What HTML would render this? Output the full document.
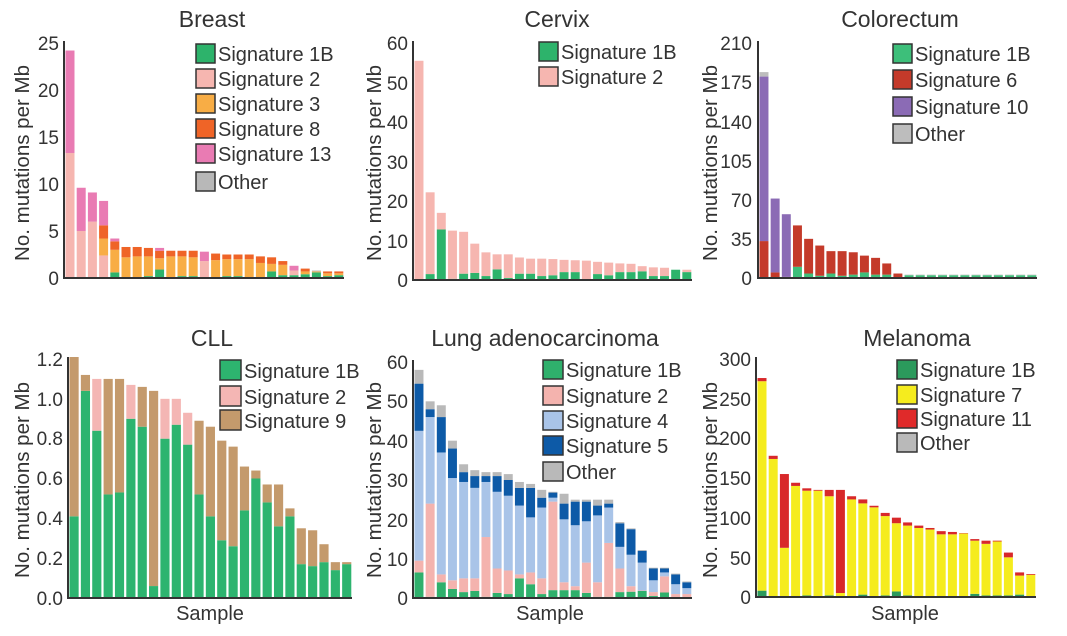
<!DOCTYPE html>
<html><head><meta charset="utf-8"><style>
html,body{margin:0;padding:0;background:#fff;}
svg{display:block;font-family:"Liberation Sans",sans-serif;}
.t{font-size:23px;fill:#333;text-anchor:middle}
.k{font-size:19px;fill:#333;text-anchor:end}
.l{font-size:20px;fill:#333}
.y{font-size:20.5px;fill:#333;text-anchor:middle}
</style></head><body>
<svg id="s" width="1067" height="636" viewBox="0 0 1067 636" xmlns="http://www.w3.org/2000/svg">
<g id="bars"></g>
<text class="t" x="212" y="27">Breast</text>
<text class="t" x="557" y="27">Cervix</text>
<text class="t" x="900" y="27">Colorectum</text>
<text class="t" x="212" y="346">CLL</text>
<text class="t" x="545" y="346">Lung adenocarcinoma</text>
<text class="t" x="917" y="346">Melanoma</text>
<text class="y" transform="translate(29,163) rotate(-90)">No. mutations per Mb</text>
<text class="y" transform="translate(381,163) rotate(-90)">No. mutations per Mb</text>
<text class="y" transform="translate(717,163) rotate(-90)">No. mutations per Mb</text>
<text class="y" transform="translate(29,480) rotate(-90)">No. mutations per Mb</text>
<text class="y" transform="translate(381,480) rotate(-90)">No. mutations per Mb</text>
<text class="y" transform="translate(717,480) rotate(-90)">No. mutations per Mb</text>
<text class="t" style="font-size:20px" x="210" y="620">Sample</text>
<text class="t" style="font-size:20px" x="550" y="620">Sample</text>
<text class="t" style="font-size:20px" x="905" y="620">Sample</text>
<text class="k" x="59" y="285">0</text><text class="k" x="59" y="238">5</text><text class="k" x="59" y="191">10</text><text class="k" x="59" y="144">15</text><text class="k" x="59" y="97">20</text><text class="k" x="59" y="50">25</text>
<text class="k" x="408" y="287">0</text><text class="k" x="408" y="248">10</text><text class="k" x="408" y="208">20</text><text class="k" x="408" y="169">30</text><text class="k" x="408" y="129">40</text><text class="k" x="408" y="90">50</text><text class="k" x="408" y="50">60</text>
<text class="k" x="752" y="285">0</text><text class="k" x="752" y="246">35</text><text class="k" x="752" y="207">70</text><text class="k" x="752" y="168">105</text><text class="k" x="752" y="129">140</text><text class="k" x="752" y="89">175</text><text class="k" x="752" y="50">210</text>
<text class="k" x="63" y="605">0.0</text><text class="k" x="63" y="565">0.2</text><text class="k" x="63" y="525">0.4</text><text class="k" x="63" y="485">0.6</text><text class="k" x="63" y="445">0.8</text><text class="k" x="63" y="406">1.0</text><text class="k" x="63" y="366">1.2</text>
<text class="k" x="408" y="605">0</text><text class="k" x="408" y="566">10</text><text class="k" x="408" y="527">20</text><text class="k" x="408" y="487">30</text><text class="k" x="408" y="448">40</text><text class="k" x="408" y="408">50</text><text class="k" x="408" y="369">60</text>
<text class="k" x="751" y="604">0</text><text class="k" x="751" y="565">50</text><text class="k" x="751" y="525">100</text><text class="k" x="751" y="485">150</text><text class="k" x="751" y="445">200</text><text class="k" x="751" y="406">250</text><text class="k" x="751" y="366">300</text>
<g stroke="#333" stroke-width="1.5">
<rect x="196" y="44" width="19" height="19" fill="#2db36b"/><rect x="196" y="69" width="19" height="19" fill="#f6b6b0"/><rect x="196" y="94" width="19" height="19" fill="#f8ad45"/><rect x="196" y="119" width="19" height="19" fill="#ef6427"/><rect x="196" y="144" width="19" height="19" fill="#e97bb3"/><rect x="196" y="172" width="19" height="19" fill="#b8b8b8"/>
<rect x="539" y="42" width="19" height="19" fill="#2db36b"/><rect x="539" y="67" width="19" height="19" fill="#f6b6b0"/>
<rect x="893" y="44" width="19" height="19" fill="#3dbf7a"/><rect x="893" y="70" width="19" height="19" fill="#c43a2a"/><rect x="893" y="97" width="19" height="19" fill="#8b6bb5"/><rect x="893" y="124" width="19" height="19" fill="#bdbdbd"/>
<rect x="220" y="360" width="21" height="20" fill="#2db46f"/><rect x="220" y="386" width="21" height="20" fill="#f4b6b4"/><rect x="220" y="410" width="21" height="20" fill="#c49a6c"/>
<rect x="543" y="360" width="20" height="19" fill="#2fb06c"/><rect x="543" y="386" width="20" height="19" fill="#f4b3ae"/><rect x="543" y="411" width="20" height="19" fill="#a9c4e8"/><rect x="543" y="436" width="20" height="19" fill="#0d5aa7"/><rect x="543" y="462" width="20" height="19" fill="#b9b9b9"/>
<rect x="897" y="360" width="20" height="19" fill="#2b9a5c"/><rect x="897" y="385" width="20" height="19" fill="#f5ec1e"/><rect x="897" y="409" width="20" height="19" fill="#e02a2a"/><rect x="897" y="433" width="20" height="19" fill="#b9b9b9"/>
</g>
<text class="l" x="218" y="61">Signature 1B</text><text class="l" x="218" y="86">Signature 2</text><text class="l" x="218" y="111">Signature 3</text><text class="l" x="218" y="136">Signature 8</text><text class="l" x="218" y="161">Signature 13</text><text class="l" x="218" y="189">Other</text>
<text class="l" x="561" y="59">Signature 1B</text><text class="l" x="561" y="84">Signature 2</text>
<text class="l" x="915" y="61">Signature 1B</text><text class="l" x="915" y="87">Signature 6</text><text class="l" x="915" y="114">Signature 10</text><text class="l" x="915" y="141">Other</text>
<text class="l" x="244" y="378">Signature 1B</text><text class="l" x="244" y="404">Signature 2</text><text class="l" x="244" y="428">Signature 9</text>
<text class="l" x="566" y="377">Signature 1B</text><text class="l" x="566" y="403">Signature 2</text><text class="l" x="566" y="428">Signature 4</text><text class="l" x="566" y="453">Signature 5</text><text class="l" x="566" y="479">Other</text>
<text class="l" x="920" y="377">Signature 1B</text><text class="l" x="920" y="402">Signature 7</text><text class="l" x="920" y="426">Signature 11</text><text class="l" x="920" y="450">Other</text>
</svg>
<script>
var g=document.getElementById('bars'),NS='http://www.w3.org/2000/svg';
function R(x,y,w,h,f){var r=document.createElementNS(NS,'rect');r.setAttribute('x',x);r.setAttribute('y',y);r.setAttribute('width',w);r.setAttribute('height',h);r.setAttribute('fill',f);g.appendChild(r);}
function P(x0,base,top,max,xe,cols,data){
 var n=data.length,w=(xe-x0)/n,s=(base-top)/max;
 data.forEach(function(b,i){var prev=0;var bx=x0+1.5+i*w;
  b.forEach(function(v,j){if(v>prev){R(bx,base-v*s,w-2.2,(v-prev)*s,cols[j]);prev=v;}});});
 R(x0-1,top-2,2,base-top+3,'#333');R(x0-1,base-1,xe-x0+1,2,'#333');
}
P(64,278,43,25,344,['#2db36b','#f6b6b0','#f8ad45','#ef6427','#e97bb3','#b8b8b8'],[
[0,13.3,0,0,24.2],[0,5,0,0,9.6],[0,6,0,0,9.1],[0,2.4,4.2,5.6,8.2],[0.6,0,3,3.9,4.2],[0.1,0,2.2,3.3],[0.1,0,2.3,3.3],[0.2,0,2.3,3.2],[0.9,0,2.1,2.9,3.2],[0.1,0,2.3,2.9],[0.2,0,2.3,2.9],[0.2,0,2.2,2.9],[0.1,1.8,0,0,2.8],[0.1,0,1.9,2.6],[0.2,0,2,2.5],[0.2,0,2,2.5],[0.1,0,2,2.5],[0.1,0,1.6,2.3],[0.7,0,1.5,2.2],[0.3,0,1.4,1.8],[0.3,0.8,0,0,1.3],[0.4,0,0.7,1.0],[0.6,0,0.7,0,0,0.8],[0.2,0,0.5,0.7],[0.3,0,0.5,0.7]]);
P(413,280,43,60,692,['#2db36b','#f6b6b0'],[[0,55.5],[1.5,22.2],[12.8,17],[0.3,12.5],[1.6,12.2],[1.8,9.2],[1,7],[2.7,6.5],[0.5,6.5],[1.6,5.7],[1.6,5.4],[1,5.4],[1.2,5.3],[2,5.1],[2,5],[0.2,4.9],[1.5,4.6],[1.2,4.4],[2,4.2],[2,4.1],[2.2,3.5],[1,3.2],[1,3.1],[2.6,2.6],[2,2.6]]);
P(758,278,43,210,1037,['#3dbf7a','#c43a2a','#8b6bb5','#bdbdbd'],[[0,33,180,184],[0,5,71],[0,1,57],[10,47],[4,35],[2,29],[4,24],[2,24],[3,23],[5,20],[3,18],[3,13],[0.5,4],[2.5,0,0,3],[2.5,0,0,3],[2.5,0,0,3],[2.5,0,0,3],[2.5,0,0,3],[2.5,0,0,3],[2.5,0,0,3],[2.5,0,0,3],[2.5,0,0,3],[2.5,0,0,3],[2.5,0,0,3],[2.5,0,0,3]]);
P(68,598,359,1.2,352,['#2db46f','#f4b6b4','#c49a6c'],[[0.41,0,1.21],[1.04,0,1.12],[0.84,1.1],[0.52,0,1.1],[0.53,0,1.1],[0.9,1.07],[0.86,0,1.06],[0.06,0,1.04],[0.8,1.0],[0.87,1.0],[0.77,0.93],[0.52,0,0.89],[0.41,0,0.86],[0.29,0,0.79],[0.26,0,0.76],[0.44,0,0.66],[0.6,0,0.64],[0.48,0,0.57],[0.36,0,0.57],[0.41,0,0.45],[0.17,0,0.35],[0.16,0,0.34],[0.18,0,0.27],[0.14,0,0.18],[0.17,0,0.18]]);
P(413,598,362,60,692,['#2fb06c','#f4b3ae','#a9c4e8','#0d5aa7','#b9b9b9'],[[6.5,9.5,42.5,54.5,58],[0.3,24,46,48,50],[4,6,37,46,49],[2.3,4.5,30.5,38,40],[1.5,5,29.5,32,34],[1.8,5,28,31,32.5],[0.3,15.5,29.5,31,32],[1.3,7.5,27,31,32],[1,7,26,30,31.5],[5,6,23.5,28,29.5],[3.5,6.5,20.5,28,29],[1,5,23,25.5,27.5],[2,24.5,25.5,26.8,27],[2,4,20,24,26.5],[2,3,18.5,24.5,25],[1.3,9,19.5,24.5,25],[0.3,4,21,23.5,25],[0.3,14,23,24,25],[1.5,7.5,13,19,19.3],[1.6,3,11,17.5,17.7],[1.8,1.9,9,12,12.2],[0.5,1.5,4.5,7.5,7.7],[1.4,5.5,6.5,7.5,7.7],[0.2,1,3.5,6,6.2],[0.2,1,2.5,4,4.2]]);
P(756,597,359,300,1036,['#2b9a5c','#f5ec1e','#d8282a','#b9b9b9'],[[8,272,276],[1,174,178],[1,62,155],[1,140,144],[2,134,137],[1,134,135],[2,127,135],[0,5,135],[1,123,127],[3,118,123],[1,113,115],[2,102,106],[7,93,100],[2,90,94],[1,87,90],[1,85,87],[1,79,83],[1,79,82],[1,80,80.5],[4,71,73],[2,67,71],[2,70,71],[2,50,56],[3,27,31],[1,28,29]]);
</script>
</body></html>
